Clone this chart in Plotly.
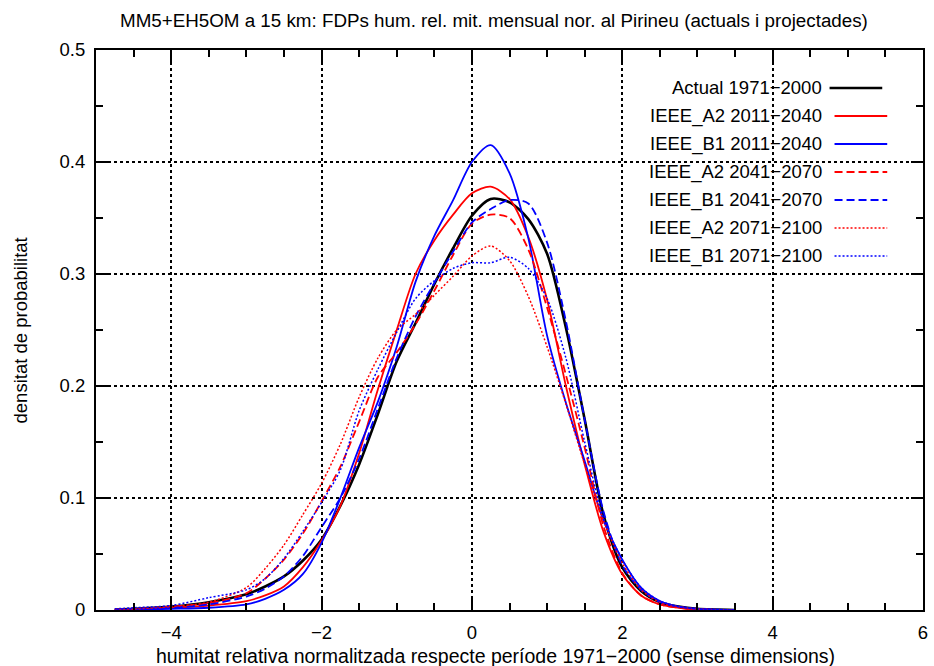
import plotly.graph_objects as go

# ---- data ----
x_grid = [-4.75, -4.5, -4.0, -3.5, -3.0, -2.75, -2.5, -2.25, -2.0, -1.75, -1.5, -1.25,
          -1.0, -0.75, -0.5, -0.25, 0.0, 0.25, 0.5, 0.75, 1.0, 1.25, 1.5, 1.75, 2.0,
          2.25, 2.5, 2.75, 3.0, 3.5]

actual_1971_2000 = [0.0003, 0.001, 0.003, 0.007, 0.014, 0.021, 0.030, 0.044, 0.063, 0.093,
                    0.130, 0.175, 0.222, 0.256, 0.291, 0.323, 0.352, 0.367, 0.364, 0.349,
                    0.318, 0.252, 0.170, 0.085, 0.038, 0.017, 0.007, 0.003, 0.001, 0.0]
a2_2011_2040 = [0.0002, 0.0006, 0.002, 0.004, 0.008, 0.013, 0.021, 0.038, 0.062, 0.093,
                0.140, 0.197, 0.250, 0.300, 0.330, 0.353, 0.372, 0.378, 0.367, 0.333,
                0.277, 0.200, 0.130, 0.070, 0.032, 0.013, 0.005, 0.002, 0.0005, 0.0]
b1_2011_2040 = [0.0001, 0.0003, 0.001, 0.002, 0.005, 0.010, 0.018, 0.032, 0.060, 0.100,
                0.145, 0.186, 0.235, 0.293, 0.334, 0.366, 0.400, 0.415, 0.390, 0.332,
                0.245, 0.185, 0.133, 0.080, 0.045, 0.020, 0.008, 0.003, 0.001, 0.0]
a2_2041_2070 = [0.0005, 0.001, 0.003, 0.006, 0.015, 0.028, 0.045, 0.068, 0.097, 0.128,
                0.168, 0.208, 0.230, 0.255, 0.285, 0.317, 0.345, 0.353, 0.350, 0.322,
                0.270, 0.210, 0.145, 0.075, 0.033, 0.013, 0.005, 0.002, 0.0005, 0.0]
b1_2041_2070 = [0.0004, 0.001, 0.002, 0.005, 0.012, 0.019, 0.030, 0.048, 0.074, 0.100,
                0.135, 0.180, 0.225, 0.262, 0.292, 0.320, 0.346, 0.358, 0.366, 0.363,
                0.328, 0.258, 0.170, 0.088, 0.040, 0.018, 0.007, 0.003, 0.001, 0.0]
a2_2071_2100 = [0.0005, 0.001, 0.003, 0.007, 0.020, 0.037, 0.058, 0.085, 0.113, 0.148,
                0.190, 0.225, 0.250, 0.264, 0.281, 0.298, 0.316, 0.325, 0.312, 0.280,
                0.235, 0.184, 0.130, 0.080, 0.042, 0.018, 0.007, 0.003, 0.001, 0.0]
b1_2071_2100 = [0.001, 0.002, 0.004, 0.011, 0.018, 0.028, 0.046, 0.070, 0.096, 0.125,
                0.178, 0.215, 0.248, 0.278, 0.294, 0.305, 0.310, 0.310, 0.315, 0.305,
                0.278, 0.225, 0.150, 0.082, 0.045, 0.020, 0.008, 0.003, 0.001, 0.0]

series_names = ["Actual 1971\u22122000", "IEEE_A2 2011\u22122040", "IEEE_B1 2011\u22122040",
                "IEEE_A2 2041\u22122070", "IEEE_B1 2041\u22122070", "IEEE_A2 2071\u22122100",
                "IEEE_B1 2071\u22122100"]
series_values = [actual_1971_2000, a2_2011_2040, b1_2011_2040, a2_2041_2070,
                 b1_2041_2070, a2_2071_2100, b1_2071_2100]
series_colors = ["#000000", "#ff0000", "#0000ff", "#ff0000", "#0000ff", "#ff0000", "#0000ff"]
series_dash = ["solid", "solid", "solid", "8px,4px", "8px,4px", "2px,2px", "2px,2px"]
series_width = [2.6, 1.8, 1.8, 1.8, 1.8, 1.5, 1.5]

x_tick_vals = [-4, -2, 0, 2, 4, 6]
y_tick_vals = [0, 0.1, 0.2, 0.3, 0.4, 0.5]
y_tick_text = ["0", "0.1", "0.2", "0.3", "0.4", "0.5"]

title_text = "MM5+EH5OM a 15 km: FDPs hum. rel. mit. mensual nor. al Pirineu (actuals i projectades)"
x_title = "humitat relativa normalitzada respecte període 1971\u22122000 (sense dimensions)"
y_title = "densitat de probabilitat"

# ---- figure ----
W, H = 934, 666
ML, MR, MT, MB = 96, 6, 50, 56
PW, PH = W - ML - MR, H - MT - MB
FONT = "Liberation Sans, Arial, sans-serif"
FS = 18.5


def px_to_paper_x(px):
    return (px - ML) / PW


def px_to_paper_y(py):
    return (H - MB - py) / PH


fig = go.Figure()
for name, vals, col, dash, w in zip(series_names, series_values, series_colors,
                                    series_dash, series_width):
    fig.add_trace(go.Scatter(x=x_grid, y=vals, mode="lines", name=name,
                             line=dict(color=col, dash=dash, width=w,
                                       shape="spline", smoothing=0.8),
                             showlegend=False))

annotations = [
    dict(text=title_text, x=px_to_paper_x(496), y=px_to_paper_y(21), xref="paper",
         yref="paper", xanchor="center", yanchor="middle", showarrow=False,
         font=dict(family=FONT, size=18.8, color="black")),
    dict(text=x_title, x=px_to_paper_x(498), y=px_to_paper_y(656), xref="paper",
         yref="paper", xanchor="center", yanchor="middle", showarrow=False,
         font=dict(family=FONT, size=19.5, color="black")),
    dict(text=y_title, x=px_to_paper_x(20), y=0.5, xref="paper", yref="paper",
         xanchor="center", yanchor="middle", showarrow=False, textangle=-90,
         font=dict(family=FONT, size=FS, color="black")),
]
shapes = []
legend_rows = [88, 116, 144, 172, 200, 228, 256]
for i, (name, col, dash, w) in enumerate(zip(series_names, series_colors, series_dash,
                                             series_width)):
    py = legend_rows[i]
    annotations.append(dict(text=name, x=px_to_paper_x(828), y=px_to_paper_y(py),
                            xref="paper", yref="paper", xanchor="right",
                            yanchor="middle", showarrow=False,
                            font=dict(family=FONT, size=FS, color="black")))
    x0 = 834 if i == 0 else 839
    shapes.append(dict(type="line", xref="paper", yref="paper",
                       x0=px_to_paper_x(x0), x1=px_to_paper_x(x0 + 53),
                       y0=px_to_paper_y(py), y1=px_to_paper_y(py),
                       line=dict(color=col, dash=dash, width=w)))

axis_common = dict(ticks="inside", ticklen=12, tickwidth=2, tickcolor="black",
                   showline=True, linewidth=2, linecolor="black", mirror="ticks",
                   showgrid=True, gridcolor="black", griddash="dot", gridwidth=1.5,
                   zeroline=False, tickfont=dict(family=FONT, size=FS, color="black"))

fig.update_layout(
    width=W, height=H,
    margin=dict(l=ML, r=MR, t=MT, b=MB),
    paper_bgcolor="white", plot_bgcolor="white",
    font=dict(family=FONT, size=FS, color="black"),
    annotations=annotations, shapes=shapes,
    xaxis=dict(range=[-5, 6], tickvals=x_tick_vals, ticklabelstandoff=5,
               minor=dict(dtick=0.5, ticks="inside", ticklen=7, tickwidth=2,
                          tickcolor="black", showgrid=False), **axis_common),
    yaxis=dict(range=[0, 0.5], tickvals=y_tick_vals, ticktext=y_tick_text,
               ticklabelstandoff=5,
               minor=dict(dtick=0.05, ticks="inside", ticklen=7, tickwidth=2,
                          tickcolor="black", showgrid=False), **axis_common),
)

fig.write_html("out.html")
